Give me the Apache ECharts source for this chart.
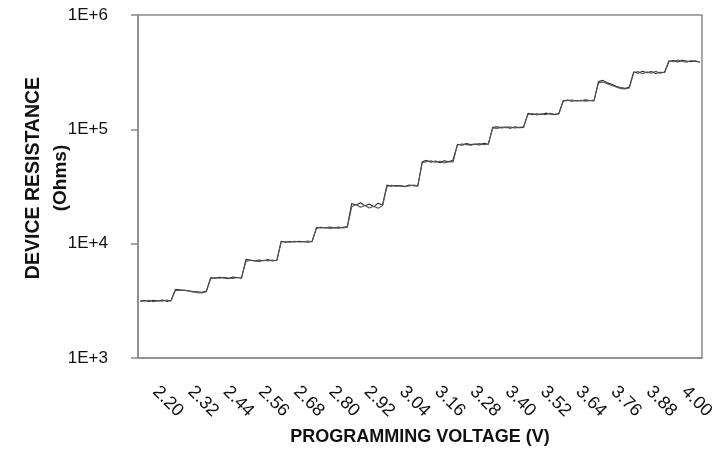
<!DOCTYPE html>
<html>
<head>
<meta charset="utf-8">
<script src="https://cdn.jsdelivr.net/npm/echarts@6/dist/echarts.min.js"></script>
<style>
  html, body { margin: 0; padding: 0; background: #fff; }
  #chart { width: 724px; height: 449px; }
</style>
</head>
<body>
<div id="chart"></div>
<script>
// programming voltage steps (x axis categories)
const volts = ["2.20", "2.32", "2.44", "2.56", "2.68", "2.80", "2.92", "3.04",
  "3.16", "3.28", "3.40", "3.52", "3.64", "3.76", "3.88", "4.00"];

// y axis tick labels (log scale, decades)
const yTicks = ["1E+3", "1E+4", "1E+5", "1E+6"];

// readings per voltage step (8 samples each), two overlapping runs, in ohms
const runA = [
  3150, 3180, 3120, 3200, 3150, 3220, 3130, 3190,
  3980, 3950, 3900, 3870, 3820, 3790, 3760, 3850,
  5050, 4980, 5080, 5020, 4950, 5100, 5060, 5000,
  7300, 7150, 7050, 7200, 7100, 7250, 7050, 7150,
  10500, 10300, 10450, 10350, 10500, 10400, 10300, 10450,
  13600, 13900, 13700, 14000, 13800, 13650, 13900, 14100,
  22500, 21800, 22800, 21500, 22200, 21000, 22600, 21800,
  32500, 31800, 32300, 32000, 31500, 32600, 32100, 31900,
  52000, 53500, 51500, 52800, 51000, 53000, 52000, 54000,
  74000, 72500, 75000, 73500, 74500, 73000, 75500, 74000,
  104000, 105500, 103000, 104500, 102500, 105000, 103500, 104000,
  138000, 134000, 137000, 135000, 138500, 136000, 134500, 137500,
  178000, 180000, 176000, 179000, 177000, 181000, 178500, 177500,
  262000, 268000, 255000, 248000, 238000, 232000, 228000, 235000,
  318000, 310000, 322000, 312000, 320000, 308000, 316000, 314000,
  392000, 400000, 388000, 402000, 395000, 390000, 398000, 386000
];
const runB = [
  3120, 3150, 3190, 3110, 3170, 3140, 3210, 3160,
  3920, 3890, 3930, 3840, 3780, 3720, 3700, 3800,
  4960, 5040, 4990, 5070, 5010, 4970, 5040, 5080,
  7000, 7200, 7100, 6950, 7150, 7050, 7200, 7100,
  10350, 10450, 10300, 10500, 10350, 10400, 10550, 10400,
  13900, 13700, 13850, 13600, 13750, 13950, 13700, 13900,
  21000, 22000, 20800, 21600, 20500, 21200, 20400, 21400,
  31600, 32400, 31800, 32200, 31700, 31900, 32500, 32000,
  51000, 52000, 53000, 51500, 52500, 50800, 52200, 51800,
  73000, 74500, 73500, 72800, 74000, 75000, 73500, 74500,
  103000, 102000, 104500, 103500, 105000, 102800, 104000, 105500,
  135000, 137500, 133500, 136500, 134500, 138000, 135500, 136000,
  176500, 178500, 180500, 177000, 179500, 176000, 178000, 180000,
  255000, 260000, 250000, 242000, 235000, 228000, 225000, 230000,
  312000, 320000, 306000, 318000, 310000, 322000, 309000, 317000,
  398000, 390000, 404000, 392000, 386000, 400000, 393000, 388000
];

const samplesPerStep = 8;
// hidden sample axis: one slot per reading
const sampleSlots = volts.flatMap((v) =>
  Array.from({ length: samplesPerStep }, (_, i) => v + "-" + i)
);

const axisGray = "#8a8a8a";
const font = "'Liberation Sans', Arial, sans-serif";

const chart = echarts.init(document.getElementById("chart"));

const option = {
  animation: false,
  grid: {
    left: 138,
    right: 22,
    top: 15,
    bottom: 91,
    outerBoundsMode: "none",
    show: true,
    borderColor: axisGray,
    borderWidth: 1.5,
  },
  xAxis: [
    {
      type: "category",
      data: volts,
      boundaryGap: true,
      axisLine: { lineStyle: { color: axisGray, width: 1.5 } },
      axisTick: { inside: false, length: 6, lineStyle: { color: axisGray, width: 1.5 } },
      axisLabel: {
        rotate: -45,
        margin: 31,
        interval: 0,
        color: "#111",
        fontSize: 18,
        fontFamily: font,
      },
      name: "PROGRAMMING VOLTAGE (V)",
      nameLocation: "middle",
      nameGap: 70,
      nameTextStyle: { color: "#111", fontSize: 18, fontWeight: "bold", fontFamily: font },
      splitLine: { show: false },
    },
    {
      type: "category",
      data: sampleSlots,
      boundaryGap: true,
      show: false,
    },
  ],
  yAxis: {
    type: "log",
    logBase: 10,
    min: 1000,
    max: 1000000,
    axisLine: { show: true, lineStyle: { color: axisGray, width: 1.5 } },
    axisTick: { show: true, length: 7, lineStyle: { color: axisGray, width: 1.5 } },
    axisLabel: {
      margin: 30,
      color: "#111",
      fontSize: 17,
      fontFamily: font,
      formatter: (v) => yTicks[Math.round(Math.log10(v)) - 3],
    },
    splitLine: { show: false },
    minorTick: { show: false },
  },
  graphic: [
    {
      type: "text",
      x: 34,
      y: 178,
      rotation: Math.PI / 2,
      style: {
        text: "DEVICE RESISTANCE",
        fill: "#111",
        font: "bold 19.5px " + font,
        textAlign: "center",
        textVerticalAlign: "middle",
      },
    },
    {
      type: "text",
      x: 61,
      y: 178,
      rotation: Math.PI / 2,
      style: {
        text: "(Ohms)",
        fill: "#111",
        font: "bold 19px " + font,
        textAlign: "center",
        textVerticalAlign: "middle",
      },
    },
  ],
  series: [
    {
      name: "run A",
      type: "line",
      xAxisIndex: 1,
      data: runA,
      showSymbol: false,
      lineStyle: { color: "#2a2a2a", width: 1.1 },
    },
    {
      name: "run B",
      type: "line",
      xAxisIndex: 1,
      data: runB,
      showSymbol: false,
      lineStyle: { color: "#555", width: 1.1 },
    },
  ],
};

chart.setOption(option);
</script>
</body>
</html>
